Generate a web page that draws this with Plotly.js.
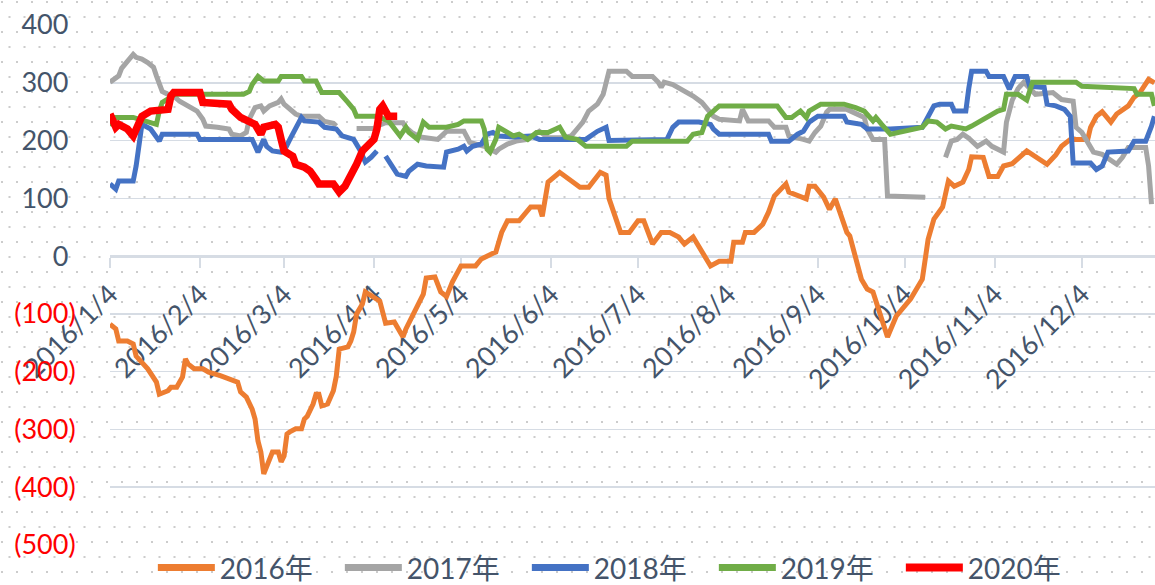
<!DOCTYPE html>
<html><head><meta charset="utf-8">
<script src="https://cdn.plot.ly/plotly-3.0.1.min.js"></script>
<style>
html,body{margin:0;padding:0;width:1155px;height:585px;overflow:hidden;
background:#ffffff url("data:image/svg+xml,%3Csvg xmlns='http://www.w3.org/2000/svg' width='15' height='30'%3E%3Crect x='1' y='1' width='2' height='2' fill='%23cccccc'/%3E%3Crect x='8.5' y='16' width='2' height='2' fill='%23cccccc'/%3E%3C/svg%3E") repeat;}
#chart{width:1155px;height:585px;}
</style></head><body><div id="chart"></div>
<script>
// x values are day-of-year in 2016 (Jan 4 = 4)
const days2016 = [4,6,7,10,12,13,17,20,21,24,
  25,27,29,30,31,33,36,38,42,45,
  48,49,51,53,54,55,56,57,58,60,
  62,63,64,65,66,68,70,71,72,74,
  75,76,77,79,81,82,83,86,87,88,
  89,91,92,94,97,98,99,102,105,106,
  108,112,113,116,118,120,122,125,130,132,
  136,137,139,141,145,148,149,152,153,155,
  159,166,169,173,175,176,180,183,186,188,
  191,194,197,200,202,205,208,211,214,218,
  219,222,223,226,229,231,233,237,238,240,
  244,245,247,250,252,254,256,258,259,262,
  263,265,267,272,273,275,280,284,286,288,
  291,293,295,298,300,301,305,307,310,312,
  315,320,327,330,332,335,341,342,344,346,
  349,351,355,356,357,359,362,364];
const vals2016 = [-118,-126,-147,-147,-152,-173,-195,-218,-239,-233,
  -227,-227,-209,-178,-187,-195,-195,-201,-207,-213,
  -218,-235,-244,-265,-282,-320,-339,-377,-363,-339,
  -339,-356,-346,-308,-304,-299,-299,-282,-277,-256,
  -239,-239,-259,-256,-233,-208,-161,-157,-147,-131,
  -100,-83,-62,-69,-78,-97,-116,-114,-140,-126,
  -105,-66,-38,-36,-62,-70,-45,-17,-17,-5,
  5,7,41,61,61,81,85,85,69,128,
  145,119,119,145,140,100,41,41,61,61,
  21,41,41,33,21,33,7,-17,-9,-9,
  24,24,41,41,55,76,104,125,111,107,
  99,121,121,102,81,99,69,41,35,-17,
  -40,-57,-62,-140,-126,-104,-74,-40,29,64,
  85,130,121,128,150,172,171,138,138,156,
  160,182,159,175,190,202,202,223,242,250,
  232,246,260,268,275,283,306,300];

const days2017 = [4,6,7,8,10,12,13,15,17,19,
  20,21,22,24,26,28,31,33,34,36,
  37,41,45,46,49,51,52,54,56,57,
  59,62,63,64,66,68,70,76,78,81,
  82,84,89,95,96,99,105,106,108,111,
  117,120,126,127,128,133,137,138,141,144,
  148,152,155,160,163,165,167,169,172,174,
  175,176,182,184,191,193,194,195,198,201,
  205,208,210,212,214,221,222,224,231,233,
  237,238,243,245,247,249,251,252,258,261,
  264,265,267,271,272,285,286,292,294,296,
  298,300,303,306,308,312,313,315,317,319,
  323,329,332,336,337,339,341,343,346,350,
  351,353,355,361,362,363];
const vals2017 = [301,310,312,325,337,349,344,341,335,327,
  312,297,285,280,277,268,260,254,251,237,
  225,223,220,211,208,214,237,257,260,251,
  260,266,272,263,254,246,242,242,233,230,
  225,null,221,221,225,231,231,223,214,206,
  202,216,216,208,197,190,180,185,194,199,
  202,216,205,205,208,220,232,251,263,280,
  301,320,320,311,311,301,292,301,297,289,
  277,266,254,242,237,234,254,234,234,223,
  223,208,202,199,214,225,249,254,254,247,
  240,220,202,202,104,102,null,171,199,202,
  211,204,190,199,190,180,232,270,290,301,
  280,283,271,268,223,214,197,180,176,163,
  159,171,188,188,156,90];

const days2018 = [4,6,7,12,13,14,15,18,20,21,
  22,34,35,53,55,56,57,58,60,63,
  64,66,68,70,71,76,78,82,84,88,
  90,92,94,96,97,99,103,106,107,110,
  113,119,120,124,126,127,129,132,134,136,
  138,143,149,152,168,172,175,176,196,198,
  200,207,211,212,214,231,232,238,241,243,
  245,248,257,258,263,265,273,284,286,288,
  290,294,295,299,300,301,306,307,312,314,
  316,320,321,326,327,330,333,335,336,342,
  344,346,348,355,357,361,363,364];
const vals2018 = [125,116,130,130,156,200,228,220,208,199,
  211,211,202,202,180,190,202,190,182,180,
  182,202,223,240,234,232,223,220,208,202,
  185,163,171,182,null,173,142,138,147,159,
  156,154,180,185,190,182,190,194,211,214,
  208,206,208,202,202,216,223,200,202,223,
  232,232,228,220,211,211,199,199,211,216,
  232,242,242,232,228,220,220,223,242,260,
  263,263,251,251,290,320,320,311,311,289,
  311,311,294,292,263,260,254,242,161,161,
  150,156,180,182,199,199,225,242];

const days2019 = [4,5,12,17,20,21,22,25,26,50,
  52,53,55,57,62,63,70,71,75,77,
  83,86,88,89,96,100,102,104,106,107,
  110,112,114,120,124,126,132,133,134,135,
  137,138,141,143,145,148,151,155,159,161,
  165,168,182,184,203,205,208,210,212,214,
  234,235,237,239,242,244,245,249,257,261,
  264,267,268,270,273,284,286,289,292,294,
  299,301,306,310,312,313,317,320,322,337,
  339,357,358,363,364];
const vals2019 = [225,240,240,232,228,251,266,275,280,280,
  285,297,311,303,303,311,311,303,303,283,
  283,266,254,242,242,234,220,208,223,214,
  202,232,223,223,228,234,234,220,185,180,
  202,223,214,208,211,202,214,214,223,206,
  202,190,190,199,199,211,214,242,251,260,
  260,254,240,240,251,240,251,263,263,257,
  251,234,240,228,211,223,234,232,220,225,
  220,225,240,251,254,280,280,270,301,301,
  294,290,280,280,260];

const days2020 = [4,6,7,10,12,14,15,18,24,25,
  26,35,36,45,46,49,51,54,56,57,
  61,62,63,64,67,68,71,73,75,76,
  81,83,85,87,89,91,93,95,96,97,
  98,100,103];
const vals2020 = [246,223,228,220,208,228,242,251,254,277,
  283,283,266,263,254,240,234,228,211,223,
  228,223,202,182,173,159,154,147,133,125,
  125,111,121,137,159,182,194,202,220,254,
  260,242,242];

const seriesNames = ['2016年','2017年','2018年','2019年','2020年'];
const seriesColors = ['#ED7D31','#A5A5A5','#4472C4','#70AD47','#FF0000'];
const tickDates = ['2016-01-04','2016-02-04','2016-03-04','2016-04-04','2016-05-04','2016-06-04',
  '2016-07-04','2016-08-04','2016-09-04','2016-10-04','2016-11-04','2016-12-04'];
const tickLabels = ['2016/1/4','2016/2/4','2016/3/4','2016/4/4','2016/5/4','2016/6/4',
  '2016/7/4','2016/8/4','2016/9/4','2016/10/4','2016/11/4','2016/12/4'];
const yTickValues = [400,300,200,100,0,-100,-200,-300,-400,-500];

function toDate(doy){
  return new Date(Date.UTC(2016,0,doy)).toISOString().slice(0,10);
}
const allDays = [days2016,days2017,days2018,days2019,days2020];
const allVals = [vals2016,vals2017,vals2018,vals2019,vals2020];
const widths = [5,5,5,5,7.5];
const legendWidths = [7,7,7,7,8];

const traces = allDays.map((d,i)=>({
  type:'scatter', mode:'lines', name:seriesNames[i], legendgroup:'g'+i,
  x:d.map(toDate), y:allVals[i], connectgaps:false, showlegend:false,
  line:{color:seriesColors[i], width:widths[i], shape:'linear'},
  hoverinfo:'skip'
}));
// legend entries (thicker sample lines, as in the original legend)
seriesNames.forEach((n,i)=>traces.push({
  type:'scatter', mode:'lines', name:n, legendgroup:'g'+i,
  x:[null], y:[null], showlegend:true,
  line:{color:seriesColors[i], width:legendWidths[i]}, hoverinfo:'skip'
}));

const yTickText = yTickValues.map(v => v<0
  ? '<span style="color:#FF0000">('+(-v)+')</span>'
  : v+'<span style="color:rgba(0,0,0,0)">)</span>');

const FONT = 'Lato, "Noto Sans CJK SC", sans-serif';
const TXT = '#44546A';
const GRID = '#D6DCE4';

const layout = {
  width:1155, height:585,
  margin:{l:110, r:0, t:25, b:40, autoexpand:false},
  paper_bgcolor:'rgba(0,0,0,0)', plot_bgcolor:'rgba(0,0,0,0)',
  font:{family:FONT, color:TXT, size:27},
  showlegend:true,
  legend:{orientation:'h', x:0.041, xanchor:'left', y:-0.044, yanchor:'middle',
    font:{family:FONT, size:28, color:TXT}, itemwidth:57, entrywidth:115,
    bgcolor:'rgba(0,0,0,0)', traceorder:'normal'},
  xaxis:{type:'date', range:['2016-01-04','2016-12-29 05:00'],
    anchor:'free', position:500/900, layer:'below traces',
    tickmode:'array', tickvals:tickDates, ticktext:tickLabels, tickangle:-45,
    tickfont:{family:FONT, size:27, color:TXT},
    showgrid:false, showline:true, linecolor:GRID, linewidth:1.5,
    ticks:'outside', ticklen:10, tickwidth:1.5, tickcolor:GRID, zeroline:false},
  yaxis:{range:[-500,400], tickmode:'array', tickvals:yTickValues, ticktext:yTickText,
    tickfont:{family:FONT, size:27, color:TXT},
    showgrid:true, gridcolor:GRID, gridwidth:1.5, zeroline:false, showline:false,
    ticks:'outside', ticklen:28, tickcolor:'rgba(0,0,0,0)'}
};

Plotly.newPlot('chart', traces, layout, {staticPlot:true, displayModeBar:false});
</script></body></html>
